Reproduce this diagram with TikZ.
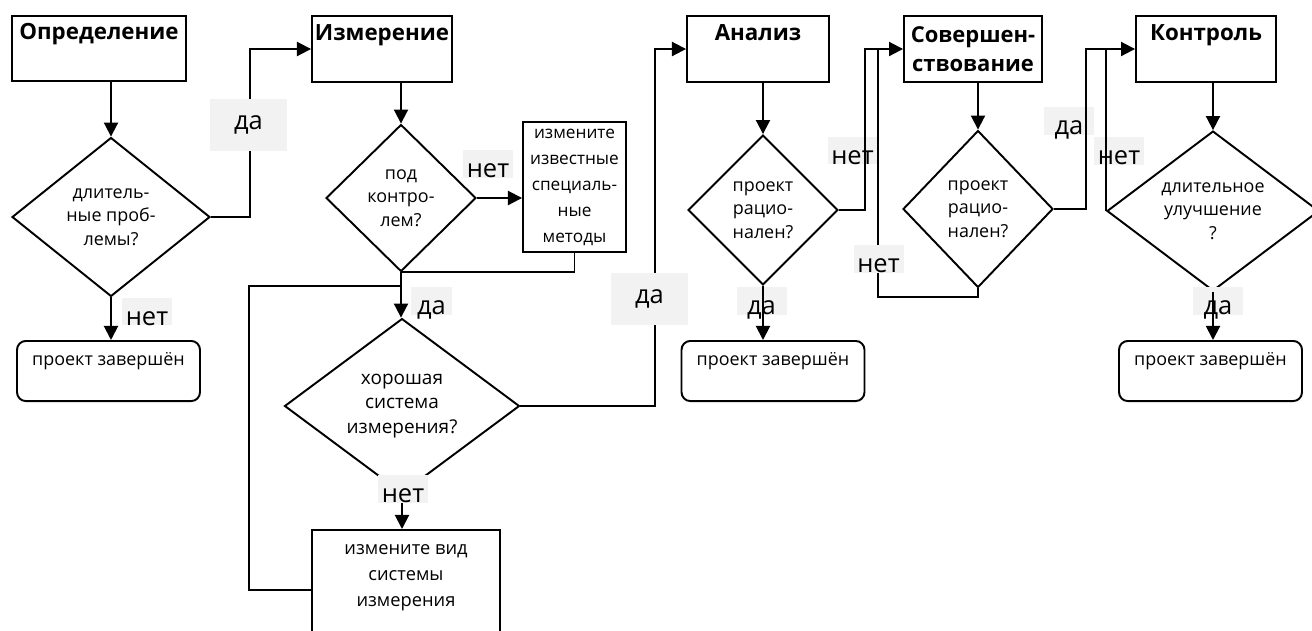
\documentclass[tikz,border=0pt]{standalone}
\usepackage{fontspec}
\setmainfont{Open Sans}
\usepackage{tikz}
\usetikzlibrary{shapes.geometric,arrows.meta}
\definecolor{tagfill}{HTML}{F2F2F2}

\begin{document}
\begin{tikzpicture}[
            x = 0.02cm, y = -0.02cm, % one unit = one pixel of the sheet
            > = {Triangle[length=8pt,width=8pt]}, % arrow head style
            line width = 1.1pt, % line style
            head/.style = {draw=black, rectangle, inner sep=0pt, text height=13.9pt, text depth=23.6pt,
                           font=\fontsize{12.7}{16.5}\selectfont\bfseries},
            head2/.style = {draw=black, rectangle, inner sep=0pt, align=center, minimum height=1.32cm,
                           font=\fontsize{12.5}{16.5}\selectfont\bfseries},
            question/.style = {draw=black, diamond, align=center, inner sep=0pt,
                               font=\fontsize{10.2}{13.3}\selectfont},
            endbox/.style = {draw=black, rectangle, rounded corners=5pt, inner sep=0pt,
                             minimum width=3.66cm, text height=13.7pt, text depth=20.5pt,
                             font=\fontsize{10.2}{14}\selectfont},
            fixbox/.style = {draw=black, rectangle, align=center, inner sep=0pt,
                             font=\fontsize{9.8}{14.8}\selectfont},
            tag/.style = {fill=tagfill, inner sep=0pt, text height=15.4pt, text depth=0pt,
                          minimum width=1cm, font=\fontsize{14.5}{15}\selectfont}
        ]
\useasboundingbox (0,0) rectangle (1312,630);

% phases
\node[head, minimum width=3.48cm] (defn) at (99,48.5) {Определение};
\node[head, minimum width=2.8cm] (meas) at (382,49) {Измерение};
\node[head, minimum width=2.84cm] (anal) at (758,49) {Анализ};
\node[head2, minimum width=2.76cm] (impr) at (973,49) {Совершен-\\ствование};
\node[head, minimum width=2.8cm] (ctrl) at (1206,49) {Контроль};

% questions
\node[question, minimum width=3.96cm, minimum height=3.18cm] (dq1) at (111,217) {длитель-\\ные проб-\\лемы?};
\node[question, minimum width=3cm, minimum height=2.94cm] (dq2) at (401,198) {под\\контро-\\лем?};
\node[question, minimum width=4.7cm, minimum height=3.16cm, font=\fontsize{10.8}{14}\selectfont] (dq3) at (402,406) {хорошая\\система\\измерения?};
\node[question, minimum width=3cm, minimum height=3cm] (dq4) at (763,210) {проект\\рацио-\\нален?};
\node[question, minimum width=3cm, minimum height=3.14cm] (dq5) at (978,209) {проект\\рацио-\\нален?};
\node[question, minimum width=4.24cm, minimum height=3.04cm] (dq6) at (1213,211) {длительное\\улучшение\\?};

% actions and ends
\node[fixbox, minimum width=2.06cm, minimum height=2.6cm] (fix1) at (574.5,187) {измените\\известные\\специаль-\\ные\\методы};
\node[fixbox, anchor=north, minimum width=3.76cm, text height=13.7pt, text depth=55pt,
      font=\fontsize{10.4}{14.8}\selectfont] (fix2) at (406,529)
    {\begin{tabular}[t]{@{}c@{}}измените вид\\системы\\измерения\end{tabular}};
\node[endbox] (end1) at (108.5,371) {проект завершён};
\node[endbox] (end2) at (773,371) {проект завершён};
\node[endbox] (end3) at (1210.5,371) {проект завершён};

% answers under the lines
\node[tag] (no1) at (147,311.5) {нет};
\node[tag] (no2) at (488,164) {нет};
\node[tag, minimum width=0.82cm] (yes2) at (431.5,301) {да};
\node[tag] (no4) at (852.5,150.5) {нет};
\node[tag] (yes4) at (761.5,301) {да};
\node[tag] (yes5) at (1069,121) {да};
\node[tag] (no6) at (1119,151) {нет};
\node[tag] (yes6) at (1218,301) {да};

\coordinate (loop) at (249,286);
\coordinate (back5) at (878,49);

\path [->] (defn.south -| dq1.north) edge (dq1.north);
\draw [->] (dq1.east) -- ++(39,0) |- (meas.west);
\draw [->] (dq1.south) -- (dq1.south |- end1.north);

\path [->] (meas.south -| dq2.north) edge (dq2.north);
\draw [->] (dq2.east) -- (dq2.east -| fix1.west);
\draw (fix1.south) |- (dq2.south);
\draw [->] (dq2.south) -- (dq2.south |- dq3.north);
\draw (fix2.west) -| (loop) -- (loop -| dq2.south);
\draw [->] (dq3.east) -- ++(135,0) |- (anal.west);
\draw [->] (dq3.south) -- (dq3.south |- fix2.north);

\path [->] (anal.south -| dq4.north) edge (dq4.north);
\draw [->] (dq4.east) -- ++(26,0) |- (impr.west);
\draw [->] (dq4.south) -- (dq4.south |- end2.north);

\path [->] (impr.south -| dq5.north) edge (dq5.north);
\draw (dq5.south) -- ++(0,9) -| (back5);
\draw [->] (dq5.east) -- ++(32,0) |- (ctrl.west);

\path [->] (ctrl.south -| dq6.north) edge (dq6.north);
\draw (dq6.west) -- (dq6.west |- ctrl.west);
\draw [->] (dq6.south) -- (dq6.south |- end3.north);

% answers over the lines
\node[tag, minimum width=1.54cm, text height=17.6pt, text depth=12pt] (yes1) at (248.5,125) {да};
\node[tag, minimum width=1.54cm, text height=17.6pt, text depth=12pt] (yes3) at (649.5,299) {да};
\node[tag] (no5) at (878.5,259) {нет};
\node[tag] (no3) at (403,489) {нет};
\end{tikzpicture}
\end{document}
